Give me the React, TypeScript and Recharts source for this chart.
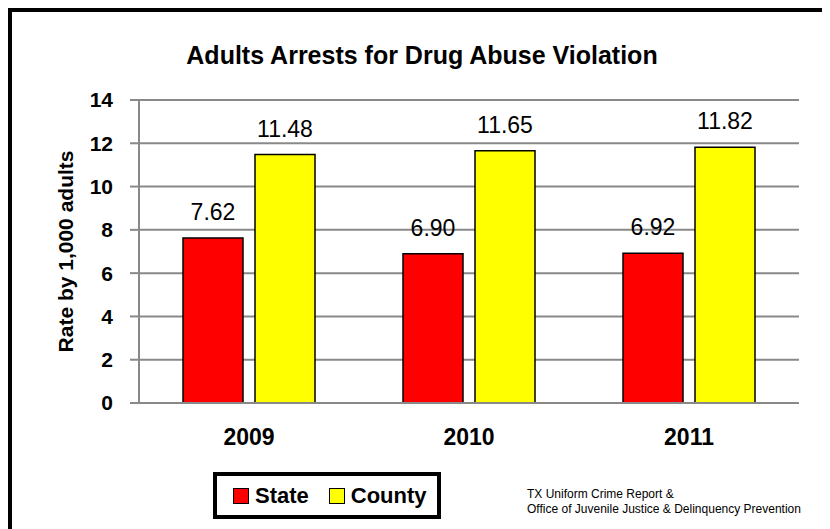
import React from "react";
import { BarChart, Bar, XAxis, YAxis, CartesianGrid, LabelList } from "recharts";

const YEARS = ["2009", "2010", "2011"];
const STATE = [7.62, 6.9, 6.92];
const COUNTY = [11.48, 11.65, 11.82];
const Y_TICKS = [0, 2, 4, 6, 8, 10, 12, 14];

const FONT = '"Liberation Sans", Arial, sans-serif';
const GRID = "#898989";

const data = YEARS.map((year, i) => ({ year, state: STATE[i], county: COUNTY[i] }));

function Swatch({ color }: { color: string }) {
  return (
    <span
      style={{
        display: "inline-block",
        width: 14,
        height: 14,
        background: color,
        border: "1.5px solid #000",
        marginRight: 6,
      }}
    />
  );
}

export default function App() {
  return (
    <div
      style={{
        position: "relative",
        width: 813,
        height: 517,
        borderTop: "4px solid #000",
        borderLeft: "4px solid #000",
        borderRight: "4px solid #000",
        background: "#fff",
        fontFamily: FONT,
      }}
    >
      <div
        style={{
          position: "absolute",
          top: 31,
          left: 0,
          width: 820,
          textAlign: "center",
          fontSize: 25,
          lineHeight: "25px",
          fontWeight: "bold",
          color: "#000",
        }}
      >
        Adults Arrests for Drug Abuse Violation
      </div>

      <BarChart
        width={813}
        height={517}
        data={data}
        margin={{ top: 88, right: 26, left: 0, bottom: 0 }}
        barCategoryGap="20%"
        barGap={12}
      >
        <CartesianGrid vertical={false} stroke={GRID} strokeWidth={2} />
        <XAxis
          dataKey="year"
          height={126}
          axisLine={{ stroke: GRID, strokeWidth: 2 }}
          tickLine={false}
          tickSize={0}
          tickMargin={26}
          tick={{ fontSize: 23, fontWeight: "bold", fill: "#000", fontFamily: FONT }}
        />
        <YAxis
          width={127}
          domain={[0, 14]}
          ticks={Y_TICKS}
          interval={0}
          axisLine={{ stroke: GRID, strokeWidth: 2 }}
          tickLine={{ stroke: GRID, strokeWidth: 2 }}
          tickSize={9}
          tickMargin={17}
          tick={{ fontSize: 21, fontWeight: "bold", fill: "#000", fontFamily: FONT }}
          label={{
            content: ({ viewBox }: any) => {
              const cy = viewBox.y + viewBox.height / 2;
              return (
                <text
                  x={53}
                  y={cy}
                  transform={`rotate(-90, 53, ${cy})`}
                  textAnchor="middle"
                  dominantBaseline="central"
                  fontSize={21}
                  fontWeight="bold"
                  fill="#000"
                  fontFamily={FONT}
                >
                  Rate by 1,000 adults
                </text>
              );
            },
          }}
        />
        <Bar dataKey="state" fill="#FF0000" stroke="#000" strokeWidth={1.5} isAnimationActive={false}>
          <LabelList
            dataKey="state"
            position="top"
            offset={18}
            formatter={(v: any) => Number(v).toFixed(2)}
            style={{ fontSize: 23, fill: "#000", fontFamily: FONT }}
          />
        </Bar>
        <Bar dataKey="county" fill="#FFFF00" stroke="#000" strokeWidth={1.5} isAnimationActive={false}>
          <LabelList
            dataKey="county"
            position="top"
            offset={18}
            formatter={(v: any) => Number(v).toFixed(2)}
            style={{ fontSize: 23, fill: "#000", fontFamily: FONT }}
          />
        </Bar>
      </BarChart>

      <div
        style={{
          position: "absolute",
          left: 201,
          top: 460,
          width: 204,
          height: 39,
          border: "4px solid #000",
          display: "flex",
          alignItems: "center",
          paddingLeft: 16,
          boxSizing: "content-box",
          fontSize: 22,
          fontWeight: "bold",
          color: "#000",
          whiteSpace: "nowrap",
        }}
      >
        <Swatch color="#FF0000" />
        <span style={{ marginRight: 20 }}>State</span>
        <Swatch color="#FFFF00" />
        <span>County</span>
      </div>

      <div
        style={{
          position: "absolute",
          left: 515,
          top: 475,
          fontSize: 12,
          lineHeight: "15px",
          color: "#000",
          whiteSpace: "nowrap",
        }}
      >
        TX Uniform Crime Report &amp;
        <br />
        Office of Juvenile Justice &amp; Delinquency Prevention
      </div>
    </div>
  );
}
